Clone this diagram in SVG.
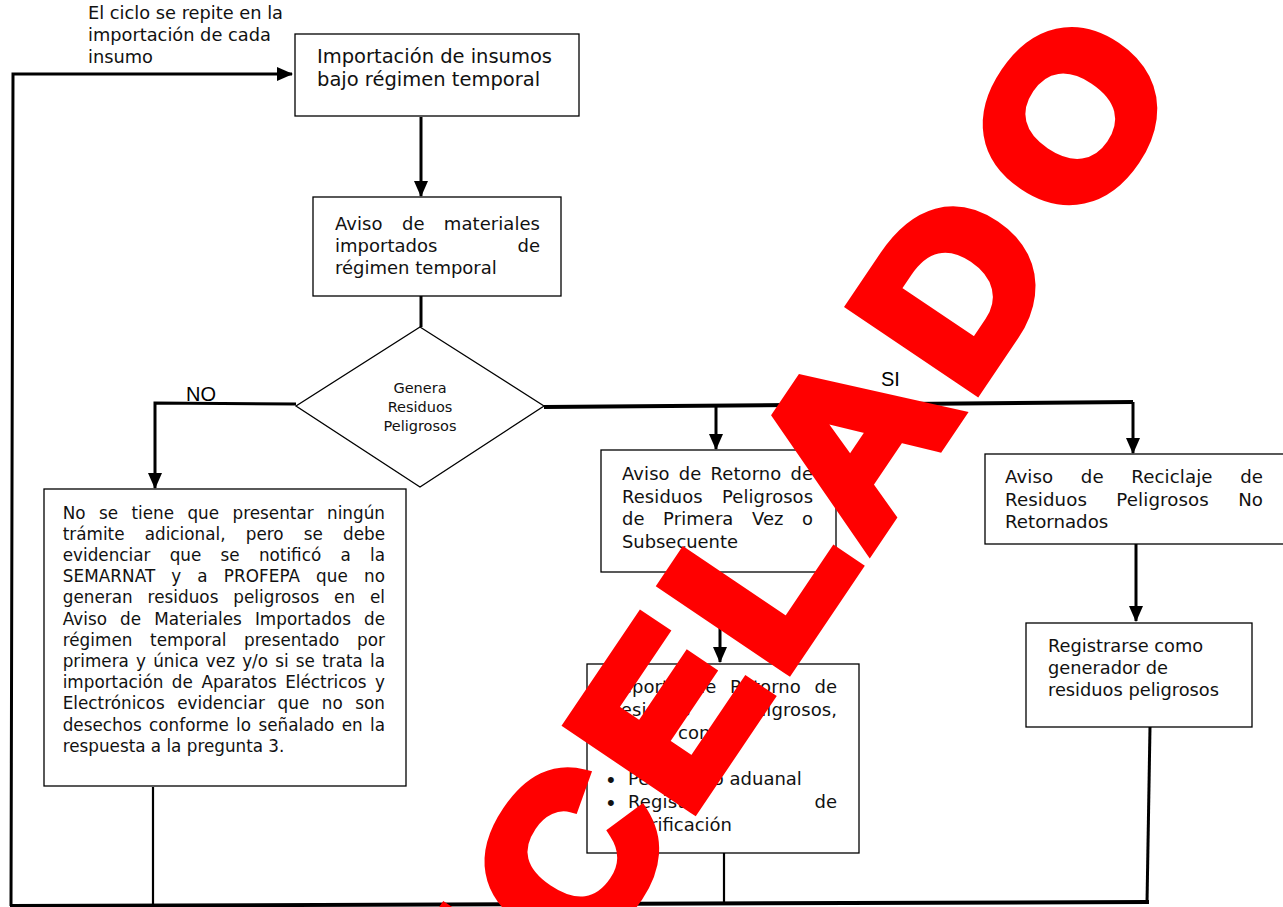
<svg xmlns="http://www.w3.org/2000/svg" width="1283" height="907" viewBox="0 0 1283 907">
<style>
.box{fill:#fff;stroke:#000;stroke-width:1.3}
.t{font-family:"DejaVu Sans","Liberation Sans",sans-serif;fill:#111}
.bul{font-family:"Liberation Sans",Arial,sans-serif;font-size:22px}
.c{stroke:#000;stroke-width:3;fill:none}
.c4{stroke:#000;stroke-width:4;fill:none}
.c2{stroke:#000;stroke-width:2.2;fill:none}
.lbl{font-family:"Liberation Sans",Arial,sans-serif;font-size:20px;fill:#000}
</style>
<defs>
<marker id="arr" markerUnits="userSpaceOnUse" markerWidth="16" markerHeight="16" viewBox="0 0 16 16" refX="15" refY="8" orient="auto">
<path d="M0,1 L16,8 L0,15 z" fill="#000"/>
</marker>
</defs>
<rect width="1283" height="907" fill="#fff"/>

<g id="connectors">
<path class="c" d="M11,906 L13,74 L292,74" marker-end="url(#arr)"/>
<path class="c" d="M421,117 L421,196" marker-end="url(#arr)"/>
<path class="c" d="M421,296 L421,327"/>
<path class="c" d="M296,404 L155,403 L155,488" marker-end="url(#arr)"/>
<path class="c4" d="M544,407 L1133,402"/>
<path class="c" d="M1133,402 L1133,453" marker-end="url(#arr)"/>
<path class="c" d="M716,406 L716,449" marker-end="url(#arr)"/>
<path class="c" d="M720,572 L720,662" marker-end="url(#arr)"/>
<path class="c" d="M1136,544 L1136,621" marker-end="url(#arr)"/>
<path class="c2" d="M153,787 L153,905"/>
<path class="c2" d="M724,853 L724,903"/>
<path class="c" d="M1150,727 L1147,903"/>
<path class="c4" d="M10,906 L1149,902"/>
<text class="lbl" x="186" y="401">NO</text>
<text class="lbl" x="881" y="386">SI</text>
</g>

<g id="note-ciclo">
<text class="t" font-size="17.8"><tspan x="88" y="19">El ciclo se repite en la</tspan><tspan x="88" y="41">importación de cada</tspan><tspan x="88" y="63">insumo</tspan></text>
</g>

<g id="n1">
<rect class="box" x="295" y="34" width="284" height="82"/>
<text class="t" font-size="19.5"><tspan x="317" y="63" textLength="235" lengthAdjust="spacing">Importación de insumos</tspan><tspan x="317" y="86">bajo régimen temporal</tspan></text>
</g>

<g id="n2">
<rect class="box" x="313" y="197" width="248" height="99"/>
<text class="t" font-size="18"><tspan x="335" y="230" word-spacing="13.5" textLength="205" lengthAdjust="spacing">Aviso de materiales</tspan><tspan x="335" y="252" word-spacing="74.5" textLength="205" lengthAdjust="spacing">importados de</tspan><tspan x="335" y="274">régimen temporal</tspan></text>
</g>

<g id="n3">
<polygon class="box" points="420,327 544,406 420,487 296,406"/>
<text class="t" font-size="14.5" text-anchor="middle"><tspan x="420" y="393">Genera</tspan><tspan x="420" y="412">Residuos</tspan><tspan x="420" y="431">Peligrosos</tspan></text>
</g>

<g id="n4">
<rect class="box" x="44" y="489" width="362" height="297"/>
<text class="t" font-size="16.8"><tspan x="62.7" y="518.5" word-spacing="8" textLength="322.3" lengthAdjust="spacing">No se tiene que presentar ningún</tspan><tspan x="62.7" y="539.7" word-spacing="14.8" textLength="322.3" lengthAdjust="spacing">trámite adicional, pero se debe</tspan><tspan x="62.7" y="560.9" word-spacing="13.9" textLength="322.3" lengthAdjust="spacing">evidenciar que se notificó a la</tspan><tspan x="62.7" y="582.1" word-spacing="10.5" textLength="322.3" lengthAdjust="spacing">SEMARNAT y a PROFEPA que no</tspan><tspan x="62.7" y="603.3" word-spacing="9.5" textLength="322.3" lengthAdjust="spacing">generan residuos peligrosos en el</tspan><tspan x="62.7" y="624.5" word-spacing="7.7" textLength="322.3" lengthAdjust="spacing">Aviso de Materiales Importados de</tspan><tspan x="62.7" y="645.7" word-spacing="12.3" textLength="322.3" lengthAdjust="spacing">régimen temporal presentado por</tspan><tspan x="62.7" y="666.9" word-spacing="1.85" textLength="322.3" lengthAdjust="spacing">primera y única vez y/o si se trata la</tspan><tspan x="62.7" y="688.1" word-spacing="3.2" textLength="322.3" lengthAdjust="spacing">importación de Aparatos Eléctricos y</tspan><tspan x="62.7" y="709.3" word-spacing="7.2" textLength="322.3" lengthAdjust="spacing">Electrónicos evidenciar que no son</tspan><tspan x="62.7" y="730.5" word-spacing="1.96" textLength="322.3" lengthAdjust="spacing">desechos conforme lo señalado en la</tspan><tspan x="62.7" y="751.7">respuesta a la pregunta 3.</tspan></text>
</g>

<g id="n5">
<rect class="box" x="601" y="450" width="235" height="122"/>
<text class="t" font-size="17.9"><tspan x="622" y="480" word-spacing="3.3" textLength="191" lengthAdjust="spacing">Aviso de Retorno de</tspan><tspan x="622" y="502.5" word-spacing="13.5" textLength="191" lengthAdjust="spacing">Residuos Peligrosos</tspan><tspan x="622" y="525" word-spacing="12.7" textLength="191" lengthAdjust="spacing">de Primera Vez o</tspan><tspan x="622" y="547.5">Subsecuente</tspan></text>
</g>

<g id="n6">
<rect class="box" x="587" y="664" width="272" height="189"/>
<text class="t" font-size="18"><tspan x="609" y="693" word-spacing="7.6" textLength="228" lengthAdjust="spacing">Reporte de Retorno de</tspan><tspan x="609" y="716" word-spacing="43.8" textLength="228" lengthAdjust="spacing">Residuos Peligrosos,</tspan><tspan x="678" y="739">con</tspan><tspan class="bul" x="607" y="787">•</tspan><tspan x="628" y="785">Pedimento aduanal</tspan><tspan class="bul" x="607" y="810">•</tspan><tspan x="628" y="808" word-spacing="106" textLength="209" lengthAdjust="spacing">Registro de</tspan><tspan x="628" y="831">Verificación</tspan></text>
</g>

<g id="n7">
<rect class="box" x="985" y="454" width="310" height="90"/>
<text class="t" font-size="18.2"><tspan x="1005" y="483" word-spacing="21.6" textLength="258" lengthAdjust="spacing">Aviso de Reciclaje de</tspan><tspan x="1005" y="505.5" word-spacing="23.5" textLength="258" lengthAdjust="spacing">Residuos Peligrosos No</tspan><tspan x="1005" y="528">Retornados</tspan></text>
</g>

<g id="n8">
<rect class="box" x="1026" y="623" width="226" height="104"/>
<text class="t" font-size="17.8"><tspan x="1048" y="652">Registrarse como</tspan><tspan x="1048" y="674">generador de</tspan><tspan x="1048" y="696">residuos peligrosos</tspan></text>
</g>

<g id="stamp">
<text transform="translate(280.2,1420) rotate(-56) scale(1.077,1)" font-family="'Liberation Sans',Arial,sans-serif" font-weight="700" font-size="215" letter-spacing="13" fill="#ff0000" stroke="#ff0000" stroke-width="14" stroke-linejoin="miter" dx="0 0 0 0 0 0 0 0 20">CANCELADO</text>
</g>
</svg>
